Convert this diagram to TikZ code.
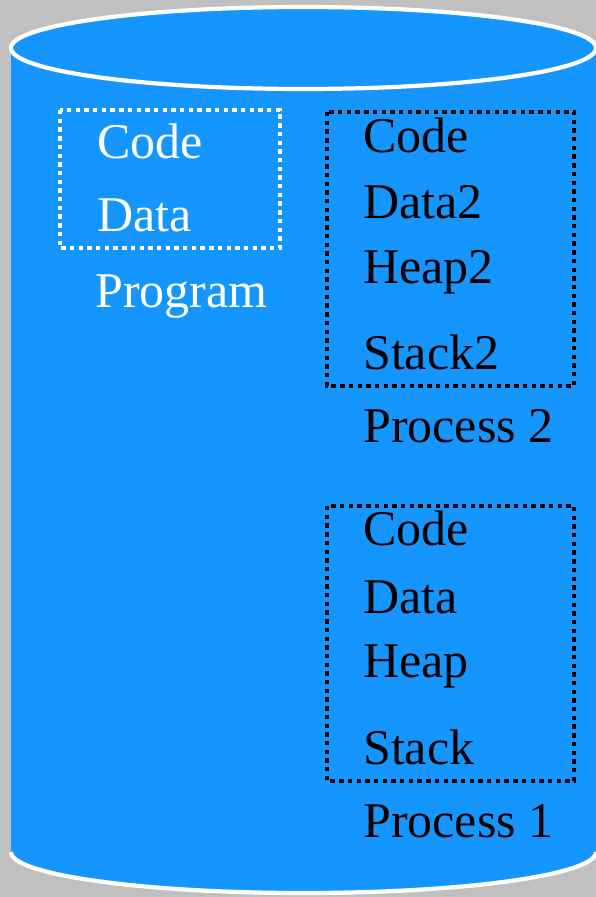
\documentclass[tikz,border=0pt]{standalone}
\usepackage{fontspec}
\setmainfont{Liberation Serif}
\definecolor{diskblue}{RGB}{21,150,254}
\definecolor{bggray}{RGB}{192,192,192}
\begin{document}
\begin{tikzpicture}[x=1pt,y=-1pt,
  lbl/.style={anchor=base west,inner sep=0pt,font=\fontsize{50}{60}\selectfont},
  wlbl/.style={lbl,text=white},
  blbl/.style={lbl,text=black},
  rim/.style={white,line width=4.2pt},
  dotbox/.style={line width=4.4pt,dash pattern=on 4.4pt off 4.3pt}]
% background and page size
\fill[bggray] (0,0) rectangle (596,897);
\useasboundingbox (0,0) rectangle (596,897);
% cylinder body (y axis points down, so the lower arc runs from 180 to 0)
\fill[diskblue] (11,48) -- (11,852) arc[start angle=180,end angle=0,x radius=292.5,y radius=41]
  -- (596,48) -- cycle;
\draw[rim] (11,852) arc[start angle=180,end angle=0,x radius=292.5,y radius=41];
% cylinder top
\draw[rim,fill=diskblue] (303.5,48) ellipse[x radius=292.5,y radius=41];
% program on disk
\draw[white,dotbox] (60,110) rectangle (280,248);
\node[wlbl] (pcode) at (97,158) {Code};
\node[wlbl] (pdata) at (97,231) {Data};
\node[wlbl] (prog) at (95,307) {Program};
% process 2
\draw[black,dotbox] (327,112) rectangle (574,386);
\node[blbl] (c2) at (363,152) {Code};
\node[blbl] (d2) at (363,218) {Data2};
\node[blbl] (h2) at (363,283) {Heap2};
\node[blbl] (s2) at (363,369) {Stack2};
\node[blbl] (p2) at (363,442) {Process 2};
% process 1
\draw[black,dotbox] (327,506) rectangle (574,781);
\node[blbl] (c1) at (363,545) {Code};
\node[blbl] (d1) at (363,613) {Data};
\node[blbl] (h1) at (363,677) {Heap};
\node[blbl] (s1) at (363,764) {Stack};
\node[blbl] (p1) at (363,837) {Process 1};
\end{tikzpicture}
\end{document}
